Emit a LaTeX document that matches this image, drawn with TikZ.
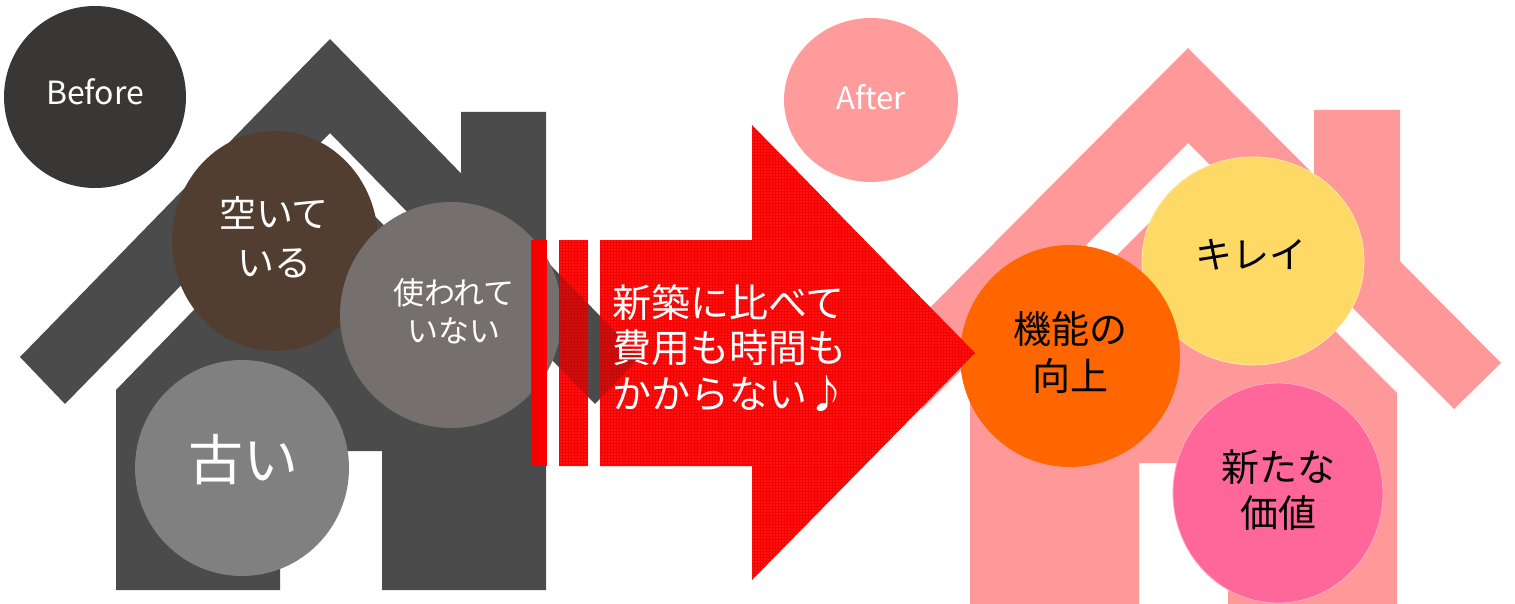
\documentclass[tikz,border=0pt]{standalone}
\usepackage{fontspec}
\setmainfont{Noto Sans CJK JP}
\usetikzlibrary{shapes.geometric,patterns.meta}

\definecolor{houseDark}{HTML}{4B4B4B}
\definecolor{houseRose}{HTML}{FF9999}
\definecolor{beforeDark}{HTML}{393735}
\definecolor{emptyBrown}{HTML}{513E30}
\definecolor{unusedGray}{HTML}{75706E}
\definecolor{oldGray}{HTML}{808080}
\definecolor{afterRose}{HTML}{FF9B9B}
\definecolor{funcOrange}{HTML}{FF6600}
\definecolor{cleanYellow}{HTML}{FFD966}
\definecolor{valuePink}{HTML}{FF6699}
\definecolor{arrowRed}{HTML}{F80000}
\definecolor{arrowDot}{HTML}{FF5A5A}
\definecolor{arrowShade}{HTML}{C80808}
\definecolor{shadeDot}{HTML}{E03030}

\tikzset{
  bubble/.style={ellipse, inner sep=0pt},
  caption/.style={align=center, inner sep=0pt},
  redfill/.style={fill=arrowRed,
    postaction={pattern={Dots[distance=3pt,radius=0.55pt]}, pattern color=arrowDot}},
  shadefill/.style={fill=arrowShade,
    postaction={pattern={Dots[distance=3pt,radius=0.55pt]}, pattern color=shadeDot}},
}

\begin{document}
\begin{tikzpicture}[x=1pt,y=-1pt]
\useasboundingbox (0,0) rectangle (1515,604);

% ---- house after renovation (pink) ----
\fill[houseRose] (1188,48) -- (1501,363) -- (1454,409) -- (1188,143) -- (922,409) -- (875,363) -- cycle;
\fill[houseRose] (1314,110) -- (1400,110) -- (1400,355) -- (1314,269) -- cycle;
\fill[houseRose] (970,402) -- (1188,184) -- (1397,393) -- (1397,604) -- (1228,604) -- (1228,463)
  -- (1139,463) -- (1139,604) -- (970,604) -- cycle;

% ---- old house (dark grey) ----
\fill[houseDark] (330,39) -- (640,357) -- (595,404) -- (330,133) -- (65,404) -- (20,357) -- cycle;
\fill[houseDark] (461,112) -- (546,112) -- (546,355) -- (461,267) -- cycle;
\fill[houseDark] (116,390) -- (330,170) -- (546,392) -- (546,590) -- (382,590) -- (382,451)
  -- (280,451) -- (280,590) -- (116,590) -- cycle;

% ---- before bubbles ----
\node[bubble, fill=beforeDark, minimum width=182pt, minimum height=182pt] (before) at (95,97) {};
\node[caption, text=white, font=\fontsize{32}{38}\selectfont] (beforeTxt) at (95,92) {Before};
\node[bubble, fill=emptyBrown, minimum width=206pt, minimum height=220pt] (empty) at (275,241) {};
\node[caption, text=white, font=\fontsize{37}{49}\selectfont] (emptyTxt) at (274,237) {空いて\\いる};
\node[bubble, fill=unusedGray, minimum width=222pt, minimum height=226pt] (unused) at (451,315) {};
\node[caption, text=white, font=\fontsize{31}{38}\selectfont] (unusedTxt) at (454,311) {使われて\\いない};
\node[bubble, fill=oldGray, minimum width=214pt, minimum height=216pt] (old) at (242,468) {};
\node[caption, text=white, font=\fontsize{55}{60}\selectfont] (oldTxt) at (243,460) {古い};

% ---- after bubbles ----
\node[bubble, fill=afterRose, minimum width=174pt, minimum height=164pt] (after) at (871,100) {};
\node[caption, text=white, font=\fontsize{31}{36}\selectfont] (afterTxt) at (871,97) {After};
\node[bubble, fill=cleanYellow, draw=cleanYellow!60!white, line width=0.8pt,
  minimum width=222pt, minimum height=208pt] (clean) at (1253,261) {};
\node[caption, font=\fontsize{37}{46}\selectfont] (cleanTxt) at (1251,255) {キレイ};
\node[bubble, fill=funcOrange, minimum width=220pt, minimum height=222pt] (func) at (1070,356) {};
\node[caption, font=\fontsize{38}{47}\selectfont] (funcTxt) at (1070,353) {機能の\\向上};
\node[bubble, fill=valuePink, draw=valuePink!55!white, line width=0.8pt,
  minimum width=210pt, minimum height=220pt] (value) at (1278,493) {};
\node[caption, font=\fontsize{38}{46}\selectfont] (valueTxt) at (1278,490) {新たな\\価値};

% ---- big arrow with leading stripes ----
\fill[arrowRed] (531,240) rectangle (547,466);
\path[redfill] (559,240) rectangle (588,466);
\path[redfill] (600,240) -- (752,240) -- (752,125) -- (975,353) -- (752,580) -- (752,466)
  -- (600,466) -- cycle;
% the roof end of the old house shows faintly through the arrow
\begin{scope}
  \clip (559,240) rectangle (588,466)
        (600,240) -- (752,240) -- (752,466) -- (600,466) -- cycle;
  \path[shadefill] (330,39) -- (640,357) -- (595,404) -- (330,133) -- cycle;
\end{scope}
\node[anchor=west, align=left, text=white, inner sep=0pt,
  font=\fontsize{39}{45.5}\selectfont] (msg) at (612,348) {新築に比べて\\費用も時間も\\かからない♪};
\end{tikzpicture}
\end{document}
